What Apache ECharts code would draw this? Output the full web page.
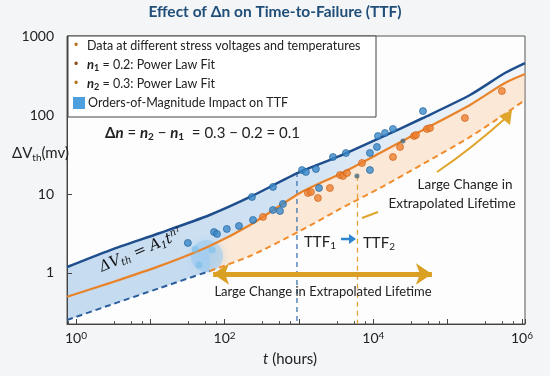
<!DOCTYPE html>
<html><head><meta charset="utf-8">
<script src="https://cdn.jsdelivr.net/npm/echarts@6/dist/echarts.min.js"></script>
<style>html,body{margin:0;padding:0;background:#f4f5f6;}#c{width:550px;height:376px;}</style>
</head><body><div id="c"></div>
<script>
// ---- data ----
const fitT        = [0.76, 2.9, 13.5, 63, 220, 1030, 3560, 12300, 46600, 200000, 590000, 1100000];
const upperFit    = [1.19, 1.95, 3.21, 5.42, 9.17, 19.0, 30.3, 51.2, 91.6, 179, 340, 455];
const lowerFit    = [0.50, 0.75, 1.23, 2.20, 4.05, 10.3, 17.9, 33.0, 64.6, 134, 254, 330];
const extrapFit   = [0.254, 0.394, 0.646, 1.06, 1.64, 3.40, 6.46, 11.9, 24.0, 52.7, 103, 155];
const blueT  = [32, 72, 79, 107, 156, 241, 233, 447, 447, 609, 556, 1100, 1240, 1690, 1860, 2870, 4290, 9020, 11200, 9020, 11560, 14360, 18400, 46600];
const blueV  = [2.40, 3.30, 3.12, 3.61, 3.94, 4.69, 9.16, 12.3, 6.27, 7.47, 6.09, 20.1, 19.0, 20.7, 11.9, 29.4, 33.0, 33.0, 39.4, 20.1, 54.2, 59.2, 66.5, 112];
const darkT  = [6030, 25070];
const darkV  = [16.9, 46.9];
const fadedT = [45, 68, 40];
const fadedV = [1.26, 1.95, 2.0];
const orangeT = [328, 1320, 1450, 1800, 2610, 3560, 3910, 4430, 7040, 18400, 22900, 35300, 37500, 52700, 57900, 171000, 538000];
const orangeV = [5.12, 10.3, 10.6, 8.90, 11.9, 17.4, 16.9, 18.4, 24.7, 29.4, 39.4, 54.2, 55.8, 66.5, 68.4, 91.6, 201];
const ttf1 = 940, ttf2 = 6130;
const ttf1Top = 19, ttf2Top = 17;
const xLabelValues = [1, 100, 10000, 1000000];
const yLabelValues = [1, 10, 100, 1000];
const arrowSpan = [70, 61500];   // double arrow ends (t)
const arrowLevel = 0.97;         // ΔVth level of double arrow

const zip = (a, b) => a.map((v, i) => [v, b[i]]);
const F = 'Lato, "Open Sans", sans-serif';
const SM = 0.25;

const chart = echarts.init(document.getElementById('c'));
const supMap = {1: '0', 100: '2', 10000: '4', 1000000: '6'};

chart.setOption({
  backgroundColor: '#f4f5f6',
  animation: false,
  grid: {left: 67, right: 25, top: 36, bottom: 52, show: true, backgroundColor: '#fdfdfd', borderColor: '#555', borderWidth: 1},
  xAxis: {
    type: 'log', logBase: 10, min: 0.757, max: 1100000, splitNumber: 6,
    axisLine: {show: true, lineStyle: {color: '#444'}},
    axisTick: {show: true, inside: true, length: 5, lineStyle: {color: '#444'}},
    minorTick: {show: true, splitNumber: 4, length: 3, lineStyle: {color: '#555'}},
    splitLine: {show: false},
    axisLabel: {
      customValues: xLabelValues, margin: 7,
      formatter: v => '10{s|' + (supMap[Math.round(v)] ?? '') + '}',
      fontSize: 14, color: '#222', fontFamily: F,
      rich: {s: {fontSize: 10, verticalAlign: 'top', lineHeight: 12, color: '#222', fontFamily: F}}
    }
  },
  yAxis: {
    type: 'log', logBase: 10, min: 0.226, max: 1000, splitNumber: 4,
    axisLine: {show: true, lineStyle: {color: '#444'}},
    axisTick: {show: true, inside: true, length: 5, lineStyle: {color: '#444'}},
    splitLine: {show: false},
    axisLabel: {customValues: yLabelValues, margin: 13, fontSize: 14, color: '#222', fontFamily: F,
      formatter: v => String(Math.round(v))}
  },
  graphic: [
    {type: 'text', left: 'center', top: 4, z: 10, style: {text: 'Effect of Δn on Time-to-Failure (TTF)', fontSize: 15.5, fontWeight: 'bold', fill: '#1f4e79', fontFamily: F}},
    {type: 'circle', shape: {cx: 207, cy: 256, r: 16}, z: 1, style: {fill: 'rgba(150,200,240,0.5)', shadowBlur: 10, shadowColor: 'rgba(150,200,240,0.8)'}},
    // legend box
    {type: 'rect', shape: {x: 68, y: 36, width: 308, height: 81}, z: 20, style: {fill: '#ffffff', stroke: '#444', lineWidth: 1}},
    {type: 'text', x: 74, y: 46, z: 21, style: {text: '•', fontSize: 12, fill: '#b8731f', verticalAlign: 'middle'}},
    {type: 'text', x: 74, y: 65, z: 21, style: {text: '•', fontSize: 12, fill: '#8a4a1c', verticalAlign: 'middle'}},
    {type: 'text', x: 74, y: 84, z: 21, style: {text: '•', fontSize: 12, fill: '#b8731f', verticalAlign: 'middle'}},
    {type: 'rect', shape: {x: 73, y: 97, width: 12, height: 12}, z: 21, style: {fill: '#4da0e0'}},
    {type: 'text', x: 87, y: 46, z: 21, style: {text: 'Data at different stress voltages and temperatures', fontSize: 12.5, fill: '#222', fontFamily: F, verticalAlign: 'middle'}},
    {type: 'text', x: 87, y: 65, z: 21, style: {
      text: '{n|n}{s|1}{t| = 0.2: Power Law Fit}', verticalAlign: 'middle',
      rich: {n: {fontSize: 13, fontWeight: 'bold', fontStyle: 'italic', fill: '#222', fontFamily: F, lineHeight: 16},
             s: {fontSize: 9, fontWeight: 'bold', fill: '#222', fontFamily: F, verticalAlign: 'bottom', lineHeight: 11},
             t: {fontSize: 12.5, fill: '#222', fontFamily: F, lineHeight: 16}}}},
    {type: 'text', x: 87, y: 84, z: 21, style: {
      text: '{n|n}{s|2}{t| = 0.3: Power Law Fit}', verticalAlign: 'middle',
      rich: {n: {fontSize: 13, fontWeight: 'bold', fontStyle: 'italic', fill: '#222', fontFamily: F, lineHeight: 16},
             s: {fontSize: 9, fontWeight: 'bold', fill: '#222', fontFamily: F, verticalAlign: 'bottom', lineHeight: 11},
             t: {fontSize: 12.5, fill: '#222', fontFamily: F, lineHeight: 16}}}},
    {type: 'text', x: 88, y: 103, z: 21, style: {text: 'Orders-of-Magnitude Impact on TTF', fontSize: 12.5, fill: '#222', fontFamily: F, verticalAlign: 'middle'}},
    // delta n equation
    {type: 'text', x: 105, y: 133, z: 21, style: {
      text: '{b|Δ}{n|n}{t| = }{n|n}{s|2}{t| − }{n|n}{s|1}{t|  = 0.3 − 0.2 = 0.1}', verticalAlign: 'middle',
      rich: {b: {fontSize: 15, fontWeight: 'bold', fill: '#222', fontFamily: F, lineHeight: 18},
             n: {fontSize: 15, fontWeight: 'bold', fontStyle: 'italic', fill: '#222', fontFamily: F, lineHeight: 18},
             s: {fontSize: 10, fontWeight: 'bold', fill: '#222', fontFamily: F, verticalAlign: 'bottom', lineHeight: 12},
             t: {fontSize: 15, fill: '#222', fontFamily: F, lineHeight: 18}}}},
    // y axis name
    {type: 'text', x: 12, y: 153, z: 21, style: {
      text: '{a|ΔV}{s|th}{a|(mv)}', verticalAlign: 'middle',
      rich: {a: {fontSize: 15, fill: '#222', fontFamily: F, lineHeight: 20}, s: {fontSize: 10, fill: '#222', fontFamily: F, verticalAlign: 'bottom', lineHeight: 13}}}},
    // x axis name
    {type: 'text', x: 290, y: 359, z: 21, style: {
      text: '{i|t}{a| (hours)}', align: 'center', verticalAlign: 'middle',
      rich: {i: {fontSize: 15, fontStyle: 'italic', fill: '#222', fontFamily: F}, a: {fontSize: 15, fill: '#222', fontFamily: F}}}},
    // formula on band
    {type: 'text', x: 141, y: 251, rotation: 0.40, z: 21, style: {
      text: '{a|ΔV}{s|th}{a| = A}{s|1}{a|t}{p|n}{q|1}', align: 'center', verticalAlign: 'middle',
      rich: {a: {fontSize: 15, fontStyle: 'italic', fill: '#111', fontFamily: '"DejaVu Serif", serif', lineHeight: 18},
             s: {fontSize: 10, fontStyle: 'italic', fill: '#111', fontFamily: '"DejaVu Serif", serif', verticalAlign: 'bottom', lineHeight: 12},
             p: {fontSize: 10, fontStyle: 'italic', fill: '#111', fontFamily: '"DejaVu Serif", serif', verticalAlign: 'top', lineHeight: 12},
             q: {fontSize: 7, fontStyle: 'italic', fill: '#111', fontFamily: '"DejaVu Serif", serif', verticalAlign: 'top', lineHeight: 16}}}},
    // TTF labels
    {type: 'text', x: 304, y: 242, z: 21, style: {
      text: '{a|TTF}{s|1}', verticalAlign: 'middle',
      rich: {a: {fontSize: 15, fill: '#222', fontFamily: F, lineHeight: 18}, s: {fontSize: 10, fill: '#222', fontFamily: F, verticalAlign: 'bottom', lineHeight: 12}}}},
    {type: 'text', x: 363, y: 243, z: 21, style: {
      text: '{a|TTF}{s|2}', verticalAlign: 'middle',
      rich: {a: {fontSize: 15, fill: '#222', fontFamily: F, lineHeight: 18}, s: {fontSize: 10, fill: '#222', fontFamily: F, verticalAlign: 'bottom', lineHeight: 12}}}},
    {type: 'line', shape: {x1: 341, y1: 239, x2: 350, y2: 239}, z: 21, style: {stroke: '#2f86cf', lineWidth: 2.5}},
    {type: 'polygon', shape: {points: [[349, 234], [356, 239], [349, 244]]}, z: 21, style: {fill: '#2f86cf'}},
    // annotation texts
    {type: 'text', x: 323, y: 292, z: 21, style: {text: 'Large Change in Extrapolated Lifetime', fontSize: 13, fill: '#222', fontFamily: F, align: 'center', verticalAlign: 'middle'}},
    {type: 'text', x: 465, y: 185, z: 21, style: {text: 'Large Change in', fontSize: 13.5, fill: '#222', fontFamily: F, align: 'center', verticalAlign: 'middle'}},
    {type: 'text', x: 452, y: 204, z: 21, style: {text: 'Extrapolated Lifetime', fontSize: 13.5, fill: '#222', fontFamily: F, align: 'center', verticalAlign: 'middle'}},
    // curved arrow
    {type: 'bezierCurve', shape: {x1: 437, y1: 172, cpx1: 470, cpy1: 150, x2: 508, y2: 116}, z: 21, style: {stroke: '#e0a52c', lineWidth: 2, fill: null}},
    {type: 'polygon', shape: {points: [[512, 110], [510, 125], [499, 116]]}, z: 21, style: {fill: '#e0a52c'}},
    {type: 'line', shape: {x1: 362, y1: 218, x2: 378, y2: 212}, z: 21, style: {stroke: '#e0a52c', lineWidth: 2}}
  ],
  series: [
    {
      type: 'custom', coordinateSystem: 'cartesian2d', data: [[1, 1]], silent: true, z: 0,
      renderItem: (params, api) => {
        const pts = vs => fitT.map((t, i) => api.coord([t, vs[i]]));
        const up = pts(upperFit), lo = pts(lowerFit), ex = pts(extrapFit);
        return {type: 'group', children: [
          {type: 'polygon', shape: {points: up.concat(lo.slice().reverse())},
           style: {fill: new echarts.graphic.LinearGradient(0, 0, 1, 0, [
             {offset: 0, color: 'rgba(120,172,222,0.42)'}, {offset: 0.5, color: 'rgba(120,172,222,0.33)'}, {offset: 1, color: 'rgba(170,200,235,0.15)'}])}},
          {type: 'polygon', shape: {points: lo.slice(0, 4).concat(ex.slice(0, 4).reverse())}, style: {fill: 'rgba(120,172,222,0.42)'}},
          {type: 'polygon', shape: {points: lo.slice(3).concat(ex.slice(3).reverse())}, style: {fill: 'rgba(249,190,140,0.33)'}}
        ]};
      }
    },
    {type: 'line', data: zip(fitT, upperFit), symbol: 'none', smooth: SM, z: 5, lineStyle: {color: '#1f4e8c', width: 2.5}},
    {type: 'line', data: zip(fitT, lowerFit), symbol: 'none', smooth: SM, z: 5, lineStyle: {color: '#e8832a', width: 2.2}},
    {type: 'line', data: zip(fitT.slice(0, 4), extrapFit.slice(0, 4)), symbol: 'none', smooth: SM, z: 5, lineStyle: {color: '#2a5d9a', width: 2, type: [6, 4]}},
    {type: 'line', data: zip(fitT.slice(3), extrapFit.slice(3)), symbol: 'none', smooth: SM, z: 5, lineStyle: {color: '#f08c2c', width: 2, type: [6, 4]}},
    {type: 'line', data: [[ttf1, ttf1Top], [ttf1, 0.226]], symbol: 'none', z: 4, lineStyle: {color: '#3f74b0', width: 1.3, type: [5, 4]}},
    {type: 'line', data: [[ttf2, ttf2Top], [ttf2, 0.226]], symbol: 'none', z: 4, lineStyle: {color: '#e3a33a', width: 1.3, type: [5, 4]},
     markLine: {silent: true, symbol: ['arrow', 'arrow'], symbolSize: 16, label: {show: false},
       lineStyle: {color: '#d9a024', width: 5, type: 'solid'},
       data: [[{coord: [arrowSpan[0], arrowLevel]}, {coord: [arrowSpan[1], arrowLevel]}]]}},
    {type: 'scatter', data: zip(fadedT, fadedV), symbolSize: 7, z: 6, itemStyle: {color: 'rgba(120,190,235,0.75)'}},
    {type: 'scatter', data: zip(blueT, blueV), symbolSize: 7, z: 6, itemStyle: {color: '#3a88c9', borderColor: '#1d5d96', borderWidth: 0.8}},
    {type: 'scatter', data: zip(orangeT, orangeV), symbolSize: 7, z: 6, itemStyle: {color: '#ef7f2f', borderColor: '#c85e14', borderWidth: 0.8}},
    {type: 'scatter', data: zip(darkT, darkV), symbolSize: 5, z: 6, itemStyle: {color: '#4a6a7a'}}
  ]
});
</script></body></html>
